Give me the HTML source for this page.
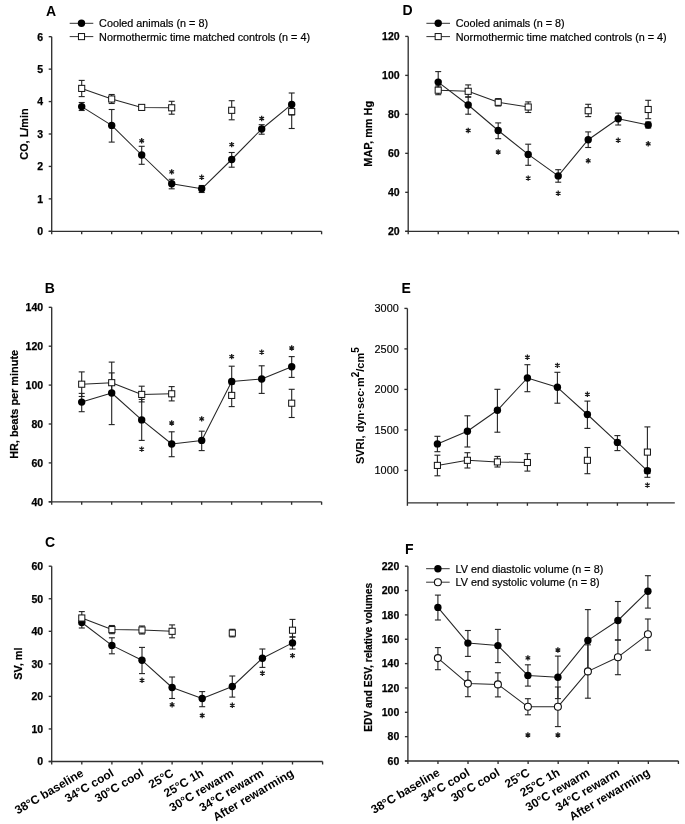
<!DOCTYPE html>
<html><head><meta charset="utf-8"><title>Figure</title><style>html,body{margin:0;padding:0;background:#fff;}svg{display:block;filter:blur(0.35px);}text{font-family:"Liberation Sans", sans-serif;fill:#000;}</style></head><body>
<svg width="685" height="824" viewBox="0 0 685 824" font-family='"Liberation Sans", sans-serif'>
<rect width="685" height="824" fill="#fff"/>
<line x1="51.7" y1="36.7" x2="51.7" y2="234.3" stroke="#303030" stroke-width="1.35"/>
<line x1="48.7" y1="231.3" x2="321.6" y2="231.3" stroke="#303030" stroke-width="1.35"/>
<line x1="48.7" y1="231.3" x2="51.7" y2="231.3" stroke="#303030" stroke-width="1.35"/>
<line x1="48.7" y1="198.87" x2="51.7" y2="198.87" stroke="#303030" stroke-width="1.35"/>
<line x1="48.7" y1="166.43" x2="51.7" y2="166.43" stroke="#303030" stroke-width="1.35"/>
<line x1="48.7" y1="134" x2="51.7" y2="134" stroke="#303030" stroke-width="1.35"/>
<line x1="48.7" y1="101.57" x2="51.7" y2="101.57" stroke="#303030" stroke-width="1.35"/>
<line x1="48.7" y1="69.13" x2="51.7" y2="69.13" stroke="#303030" stroke-width="1.35"/>
<line x1="48.7" y1="36.7" x2="51.7" y2="36.7" stroke="#303030" stroke-width="1.35"/>
<line x1="81.69" y1="231.3" x2="81.69" y2="234.3" stroke="#303030" stroke-width="1.35"/>
<line x1="111.68" y1="231.3" x2="111.68" y2="234.3" stroke="#303030" stroke-width="1.35"/>
<line x1="141.67" y1="231.3" x2="141.67" y2="234.3" stroke="#303030" stroke-width="1.35"/>
<line x1="171.66" y1="231.3" x2="171.66" y2="234.3" stroke="#303030" stroke-width="1.35"/>
<line x1="201.64" y1="231.3" x2="201.64" y2="234.3" stroke="#303030" stroke-width="1.35"/>
<line x1="231.63" y1="231.3" x2="231.63" y2="234.3" stroke="#303030" stroke-width="1.35"/>
<line x1="261.62" y1="231.3" x2="261.62" y2="234.3" stroke="#303030" stroke-width="1.35"/>
<line x1="291.61" y1="231.3" x2="291.61" y2="234.3" stroke="#303030" stroke-width="1.35"/>
<line x1="321.6" y1="231.3" x2="321.6" y2="234.3" stroke="#303030" stroke-width="1.35"/>
<text x="43.1" y="235.1" font-size="10.5" font-weight="bold" text-anchor="end" stroke="#000" stroke-width="0.25">0</text>
<text x="43.1" y="202.67" font-size="10.5" font-weight="bold" text-anchor="end" stroke="#000" stroke-width="0.25">1</text>
<text x="43.1" y="170.23" font-size="10.5" font-weight="bold" text-anchor="end" stroke="#000" stroke-width="0.25">2</text>
<text x="43.1" y="137.8" font-size="10.5" font-weight="bold" text-anchor="end" stroke="#000" stroke-width="0.25">3</text>
<text x="43.1" y="105.37" font-size="10.5" font-weight="bold" text-anchor="end" stroke="#000" stroke-width="0.25">4</text>
<text x="43.1" y="72.93" font-size="10.5" font-weight="bold" text-anchor="end" stroke="#000" stroke-width="0.25">5</text>
<text x="43.1" y="40.5" font-size="10.5" font-weight="bold" text-anchor="end" stroke="#000" stroke-width="0.25">6</text>
<text x="46" y="15.8" font-size="14" font-weight="bold" text-anchor="start" >A</text>
<text transform="translate(28.3,134) rotate(-90)" font-size="10.9" font-weight="bold" text-anchor="middle" stroke="#000" stroke-width="0.2">CO, L/min</text>
<line x1="69.7" y1="23.3" x2="93.3" y2="23.3" stroke="#333" stroke-width="1.0"/>
<circle cx="81.5" cy="23.3" r="3.7" fill="#000"/>
<text x="99.1" y="27.2" font-size="10.8" font-weight="normal" text-anchor="start" stroke="#000" stroke-width="0.2">Cooled animals (n = 8)</text>
<line x1="69.7" y1="36.6" x2="93.3" y2="36.6" stroke="#333" stroke-width="1.0"/>
<rect x="78.45" y="33.55" width="6.1" height="6.1" fill="#fff" stroke="#111" stroke-width="1.0"/>
<text x="99.1" y="40.5" font-size="10.8" font-weight="normal" text-anchor="start" stroke="#000" stroke-width="0.2">Normothermic time matched controls (n = 4)</text>
<polyline points="81.7,88.4 111.7,99 141.7,107.4 171.7,107.8" fill="none" stroke="#262626" stroke-width="1.05" stroke-linejoin="round"/>
<polyline points="81.7,106.6 111.7,125.4 141.7,155 171.7,183.8 201.7,188.8 231.7,159.5 261.7,129 291.7,104.4" fill="none" stroke="#262626" stroke-width="1.05" stroke-linejoin="round"/>
<line x1="81.7" y1="80.4" x2="81.7" y2="88.4" stroke="#222" stroke-width="1.1"/>
<line x1="78.7" y1="80.4" x2="84.7" y2="80.4" stroke="#222" stroke-width="1.1"/>
<line x1="81.7" y1="88.4" x2="81.7" y2="96.6" stroke="#222" stroke-width="1.1"/>
<line x1="78.7" y1="96.6" x2="84.7" y2="96.6" stroke="#222" stroke-width="1.1"/>
<line x1="111.7" y1="94.5" x2="111.7" y2="99" stroke="#222" stroke-width="1.1"/>
<line x1="108.7" y1="94.5" x2="114.7" y2="94.5" stroke="#222" stroke-width="1.1"/>
<line x1="111.7" y1="99" x2="111.7" y2="103.5" stroke="#222" stroke-width="1.1"/>
<line x1="108.7" y1="103.5" x2="114.7" y2="103.5" stroke="#222" stroke-width="1.1"/>
<line x1="171.7" y1="101.3" x2="171.7" y2="107.8" stroke="#222" stroke-width="1.1"/>
<line x1="168.7" y1="101.3" x2="174.7" y2="101.3" stroke="#222" stroke-width="1.1"/>
<line x1="171.7" y1="107.8" x2="171.7" y2="114.2" stroke="#222" stroke-width="1.1"/>
<line x1="168.7" y1="114.2" x2="174.7" y2="114.2" stroke="#222" stroke-width="1.1"/>
<line x1="231.7" y1="100.7" x2="231.7" y2="110.3" stroke="#222" stroke-width="1.1"/>
<line x1="228.7" y1="100.7" x2="234.7" y2="100.7" stroke="#222" stroke-width="1.1"/>
<line x1="231.7" y1="110.3" x2="231.7" y2="119.8" stroke="#222" stroke-width="1.1"/>
<line x1="228.7" y1="119.8" x2="234.7" y2="119.8" stroke="#222" stroke-width="1.1"/>
<line x1="291.7" y1="111.6" x2="291.7" y2="128.5" stroke="#222" stroke-width="1.1"/>
<line x1="288.7" y1="128.5" x2="294.7" y2="128.5" stroke="#222" stroke-width="1.1"/>
<line x1="81.7" y1="102.5" x2="81.7" y2="110.5" stroke="#222" stroke-width="1.1"/>
<line x1="78.7" y1="102.5" x2="84.7" y2="102.5" stroke="#222" stroke-width="1.1"/>
<line x1="78.7" y1="110.5" x2="84.7" y2="110.5" stroke="#222" stroke-width="1.1"/>
<line x1="111.7" y1="109.5" x2="111.7" y2="142.1" stroke="#222" stroke-width="1.1"/>
<line x1="108.7" y1="109.5" x2="114.7" y2="109.5" stroke="#222" stroke-width="1.1"/>
<line x1="108.7" y1="142.1" x2="114.7" y2="142.1" stroke="#222" stroke-width="1.1"/>
<line x1="141.7" y1="146.3" x2="141.7" y2="164.3" stroke="#222" stroke-width="1.1"/>
<line x1="138.7" y1="146.3" x2="144.7" y2="146.3" stroke="#222" stroke-width="1.1"/>
<line x1="138.7" y1="164.3" x2="144.7" y2="164.3" stroke="#222" stroke-width="1.1"/>
<line x1="171.7" y1="179.3" x2="171.7" y2="188.8" stroke="#222" stroke-width="1.1"/>
<line x1="168.7" y1="179.3" x2="174.7" y2="179.3" stroke="#222" stroke-width="1.1"/>
<line x1="168.7" y1="188.8" x2="174.7" y2="188.8" stroke="#222" stroke-width="1.1"/>
<line x1="201.7" y1="185.5" x2="201.7" y2="192.5" stroke="#222" stroke-width="1.1"/>
<line x1="198.7" y1="185.5" x2="204.7" y2="185.5" stroke="#222" stroke-width="1.1"/>
<line x1="198.7" y1="192.5" x2="204.7" y2="192.5" stroke="#222" stroke-width="1.1"/>
<line x1="231.7" y1="152.5" x2="231.7" y2="167.2" stroke="#222" stroke-width="1.1"/>
<line x1="228.7" y1="152.5" x2="234.7" y2="152.5" stroke="#222" stroke-width="1.1"/>
<line x1="228.7" y1="167.2" x2="234.7" y2="167.2" stroke="#222" stroke-width="1.1"/>
<line x1="261.7" y1="124.7" x2="261.7" y2="134.2" stroke="#222" stroke-width="1.1"/>
<line x1="258.7" y1="124.7" x2="264.7" y2="124.7" stroke="#222" stroke-width="1.1"/>
<line x1="258.7" y1="134.2" x2="264.7" y2="134.2" stroke="#222" stroke-width="1.1"/>
<line x1="291.7" y1="93" x2="291.7" y2="115" stroke="#222" stroke-width="1.1"/>
<line x1="288.7" y1="93" x2="294.7" y2="93" stroke="#222" stroke-width="1.1"/>
<line x1="288.7" y1="115" x2="294.7" y2="115" stroke="#222" stroke-width="1.1"/>
<circle cx="81.7" cy="106.6" r="3.7" fill="#000"/>
<circle cx="111.7" cy="125.4" r="3.7" fill="#000"/>
<circle cx="141.7" cy="155" r="3.7" fill="#000"/>
<circle cx="171.7" cy="183.8" r="3.7" fill="#000"/>
<circle cx="201.7" cy="188.8" r="3.7" fill="#000"/>
<circle cx="231.7" cy="159.5" r="3.7" fill="#000"/>
<circle cx="261.7" cy="129" r="3.7" fill="#000"/>
<circle cx="291.7" cy="104.4" r="3.7" fill="#000"/>
<rect x="78.65" y="85.35" width="6.1" height="6.1" fill="#fff" stroke="#111" stroke-width="1.0"/>
<rect x="108.65" y="95.95" width="6.1" height="6.1" fill="#fff" stroke="#111" stroke-width="1.0"/>
<rect x="138.65" y="104.35" width="6.1" height="6.1" fill="#fff" stroke="#111" stroke-width="1.0"/>
<rect x="168.65" y="104.75" width="6.1" height="6.1" fill="#fff" stroke="#111" stroke-width="1.0"/>
<rect x="228.65" y="107.25" width="6.1" height="6.1" fill="#fff" stroke="#111" stroke-width="1.0"/>
<rect x="288.65" y="108.55" width="6.1" height="6.1" fill="#fff" stroke="#111" stroke-width="1.0"/>
<path d="M141.7,143.5L141.7,138.1M139.36,142.15L144.04,139.45M144.04,142.15L139.36,139.45" stroke="#1a1a1a" stroke-width="1.3" fill="none"/>
<path d="M171.7,174.6L171.7,169.2M169.36,173.25L174.04,170.55M174.04,173.25L169.36,170.55" stroke="#1a1a1a" stroke-width="1.3" fill="none"/>
<path d="M201.7,180L201.7,174.6M199.36,178.65L204.04,175.95M204.04,178.65L199.36,175.95" stroke="#1a1a1a" stroke-width="1.3" fill="none"/>
<path d="M231.7,147.3L231.7,141.9M229.36,145.95L234.04,143.25M234.04,145.95L229.36,143.25" stroke="#1a1a1a" stroke-width="1.3" fill="none"/>
<path d="M261.7,121.2L261.7,115.8M259.36,119.85L264.04,117.15M264.04,119.85L259.36,117.15" stroke="#1a1a1a" stroke-width="1.3" fill="none"/>
<line x1="408.2" y1="36.4" x2="408.2" y2="234.3" stroke="#303030" stroke-width="1.35"/>
<line x1="405.2" y1="231.3" x2="678.4" y2="231.3" stroke="#303030" stroke-width="1.35"/>
<line x1="405.2" y1="231.3" x2="408.2" y2="231.3" stroke="#303030" stroke-width="1.35"/>
<line x1="405.2" y1="192.32" x2="408.2" y2="192.32" stroke="#303030" stroke-width="1.35"/>
<line x1="405.2" y1="153.34" x2="408.2" y2="153.34" stroke="#303030" stroke-width="1.35"/>
<line x1="405.2" y1="114.36" x2="408.2" y2="114.36" stroke="#303030" stroke-width="1.35"/>
<line x1="405.2" y1="75.38" x2="408.2" y2="75.38" stroke="#303030" stroke-width="1.35"/>
<line x1="405.2" y1="36.4" x2="408.2" y2="36.4" stroke="#303030" stroke-width="1.35"/>
<line x1="438.22" y1="231.3" x2="438.22" y2="234.3" stroke="#303030" stroke-width="1.35"/>
<line x1="468.24" y1="231.3" x2="468.24" y2="234.3" stroke="#303030" stroke-width="1.35"/>
<line x1="498.27" y1="231.3" x2="498.27" y2="234.3" stroke="#303030" stroke-width="1.35"/>
<line x1="528.29" y1="231.3" x2="528.29" y2="234.3" stroke="#303030" stroke-width="1.35"/>
<line x1="558.31" y1="231.3" x2="558.31" y2="234.3" stroke="#303030" stroke-width="1.35"/>
<line x1="588.33" y1="231.3" x2="588.33" y2="234.3" stroke="#303030" stroke-width="1.35"/>
<line x1="618.36" y1="231.3" x2="618.36" y2="234.3" stroke="#303030" stroke-width="1.35"/>
<line x1="648.38" y1="231.3" x2="648.38" y2="234.3" stroke="#303030" stroke-width="1.35"/>
<line x1="678.4" y1="231.3" x2="678.4" y2="234.3" stroke="#303030" stroke-width="1.35"/>
<text x="399.6" y="235.1" font-size="10.5" font-weight="bold" text-anchor="end" stroke="#000" stroke-width="0.25">20</text>
<text x="399.6" y="196.12" font-size="10.5" font-weight="bold" text-anchor="end" stroke="#000" stroke-width="0.25">40</text>
<text x="399.6" y="157.14" font-size="10.5" font-weight="bold" text-anchor="end" stroke="#000" stroke-width="0.25">60</text>
<text x="399.6" y="118.16" font-size="10.5" font-weight="bold" text-anchor="end" stroke="#000" stroke-width="0.25">80</text>
<text x="399.6" y="79.18" font-size="10.5" font-weight="bold" text-anchor="end" stroke="#000" stroke-width="0.25">100</text>
<text x="399.6" y="40.2" font-size="10.5" font-weight="bold" text-anchor="end" stroke="#000" stroke-width="0.25">120</text>
<text x="402.4" y="15" font-size="14" font-weight="bold" text-anchor="start" >D</text>
<text transform="translate(372,133.8) rotate(-90)" font-size="10.9" font-weight="bold" text-anchor="middle" stroke="#000" stroke-width="0.2">MAP, mm Hg</text>
<line x1="426.4" y1="23.3" x2="450" y2="23.3" stroke="#333" stroke-width="1.0"/>
<circle cx="438.2" cy="23.3" r="3.7" fill="#000"/>
<text x="455.8" y="27.2" font-size="10.8" font-weight="normal" text-anchor="start" stroke="#000" stroke-width="0.2">Cooled animals (n = 8)</text>
<line x1="426.4" y1="36.6" x2="450" y2="36.6" stroke="#333" stroke-width="1.0"/>
<rect x="435.15" y="33.55" width="6.1" height="6.1" fill="#fff" stroke="#111" stroke-width="1.0"/>
<text x="455.8" y="40.5" font-size="10.8" font-weight="normal" text-anchor="start" stroke="#000" stroke-width="0.2">Normothermic time matched controls (n = 4)</text>
<polyline points="438.2,90.2 468.2,91.3 498.2,102.3 528.2,107" fill="none" stroke="#262626" stroke-width="1.05" stroke-linejoin="round"/>
<polyline points="438.2,82.1 468.2,105 498.2,130.5 528.2,154.4 558.2,175.9 588.2,139.7 618.2,118.7 648.2,125" fill="none" stroke="#262626" stroke-width="1.05" stroke-linejoin="round"/>
<line x1="438.2" y1="86" x2="438.2" y2="94.7" stroke="#222" stroke-width="1.1"/>
<line x1="435.2" y1="86" x2="441.2" y2="86" stroke="#222" stroke-width="1.1"/>
<line x1="435.2" y1="94.7" x2="441.2" y2="94.7" stroke="#222" stroke-width="1.1"/>
<line x1="468.2" y1="84.9" x2="468.2" y2="97.2" stroke="#222" stroke-width="1.1"/>
<line x1="465.2" y1="84.9" x2="471.2" y2="84.9" stroke="#222" stroke-width="1.1"/>
<line x1="465.2" y1="97.2" x2="471.2" y2="97.2" stroke="#222" stroke-width="1.1"/>
<line x1="498.2" y1="98.6" x2="498.2" y2="106" stroke="#222" stroke-width="1.1"/>
<line x1="495.2" y1="98.6" x2="501.2" y2="98.6" stroke="#222" stroke-width="1.1"/>
<line x1="495.2" y1="106" x2="501.2" y2="106" stroke="#222" stroke-width="1.1"/>
<line x1="528.2" y1="101.9" x2="528.2" y2="112.5" stroke="#222" stroke-width="1.1"/>
<line x1="525.2" y1="101.9" x2="531.2" y2="101.9" stroke="#222" stroke-width="1.1"/>
<line x1="525.2" y1="112.5" x2="531.2" y2="112.5" stroke="#222" stroke-width="1.1"/>
<line x1="588.2" y1="104.3" x2="588.2" y2="116.6" stroke="#222" stroke-width="1.1"/>
<line x1="585.2" y1="104.3" x2="591.2" y2="104.3" stroke="#222" stroke-width="1.1"/>
<line x1="585.2" y1="116.6" x2="591.2" y2="116.6" stroke="#222" stroke-width="1.1"/>
<line x1="648.2" y1="100.3" x2="648.2" y2="118.7" stroke="#222" stroke-width="1.1"/>
<line x1="645.2" y1="100.3" x2="651.2" y2="100.3" stroke="#222" stroke-width="1.1"/>
<line x1="645.2" y1="118.7" x2="651.2" y2="118.7" stroke="#222" stroke-width="1.1"/>
<line x1="438.2" y1="71.6" x2="438.2" y2="92" stroke="#222" stroke-width="1.1"/>
<line x1="435.2" y1="71.6" x2="441.2" y2="71.6" stroke="#222" stroke-width="1.1"/>
<line x1="435.2" y1="92" x2="441.2" y2="92" stroke="#222" stroke-width="1.1"/>
<line x1="468.2" y1="96.8" x2="468.2" y2="114.2" stroke="#222" stroke-width="1.1"/>
<line x1="465.2" y1="96.8" x2="471.2" y2="96.8" stroke="#222" stroke-width="1.1"/>
<line x1="465.2" y1="114.2" x2="471.2" y2="114.2" stroke="#222" stroke-width="1.1"/>
<line x1="498.2" y1="122.9" x2="498.2" y2="138.7" stroke="#222" stroke-width="1.1"/>
<line x1="495.2" y1="122.9" x2="501.2" y2="122.9" stroke="#222" stroke-width="1.1"/>
<line x1="495.2" y1="138.7" x2="501.2" y2="138.7" stroke="#222" stroke-width="1.1"/>
<line x1="528.2" y1="144.2" x2="528.2" y2="165.3" stroke="#222" stroke-width="1.1"/>
<line x1="525.2" y1="144.2" x2="531.2" y2="144.2" stroke="#222" stroke-width="1.1"/>
<line x1="525.2" y1="165.3" x2="531.2" y2="165.3" stroke="#222" stroke-width="1.1"/>
<line x1="558.2" y1="169.7" x2="558.2" y2="182.2" stroke="#222" stroke-width="1.1"/>
<line x1="555.2" y1="169.7" x2="561.2" y2="169.7" stroke="#222" stroke-width="1.1"/>
<line x1="555.2" y1="182.2" x2="561.2" y2="182.2" stroke="#222" stroke-width="1.1"/>
<line x1="588.2" y1="131.9" x2="588.2" y2="147.5" stroke="#222" stroke-width="1.1"/>
<line x1="585.2" y1="131.9" x2="591.2" y2="131.9" stroke="#222" stroke-width="1.1"/>
<line x1="585.2" y1="147.5" x2="591.2" y2="147.5" stroke="#222" stroke-width="1.1"/>
<line x1="618.2" y1="113.1" x2="618.2" y2="125" stroke="#222" stroke-width="1.1"/>
<line x1="615.2" y1="113.1" x2="621.2" y2="113.1" stroke="#222" stroke-width="1.1"/>
<line x1="615.2" y1="125" x2="621.2" y2="125" stroke="#222" stroke-width="1.1"/>
<line x1="648.2" y1="122" x2="648.2" y2="128" stroke="#222" stroke-width="1.1"/>
<line x1="645.2" y1="122" x2="651.2" y2="122" stroke="#222" stroke-width="1.1"/>
<line x1="645.2" y1="128" x2="651.2" y2="128" stroke="#222" stroke-width="1.1"/>
<circle cx="438.2" cy="82.1" r="3.7" fill="#000"/>
<circle cx="468.2" cy="105" r="3.7" fill="#000"/>
<circle cx="498.2" cy="130.5" r="3.7" fill="#000"/>
<circle cx="528.2" cy="154.4" r="3.7" fill="#000"/>
<circle cx="558.2" cy="175.9" r="3.7" fill="#000"/>
<circle cx="588.2" cy="139.7" r="3.7" fill="#000"/>
<circle cx="618.2" cy="118.7" r="3.7" fill="#000"/>
<circle cx="648.2" cy="125" r="3.7" fill="#000"/>
<rect x="435.15" y="87.15" width="6.1" height="6.1" fill="#fff" stroke="#111" stroke-width="1.0"/>
<rect x="465.15" y="88.25" width="6.1" height="6.1" fill="#fff" stroke="#111" stroke-width="1.0"/>
<rect x="495.15" y="99.25" width="6.1" height="6.1" fill="#fff" stroke="#111" stroke-width="1.0"/>
<rect x="525.15" y="103.95" width="6.1" height="6.1" fill="#fff" stroke="#111" stroke-width="1.0"/>
<rect x="585.15" y="107.65" width="6.1" height="6.1" fill="#fff" stroke="#111" stroke-width="1.0"/>
<rect x="645.15" y="106.45" width="6.1" height="6.1" fill="#fff" stroke="#111" stroke-width="1.0"/>
<path d="M468.2,133.2L468.2,127.8M465.86,131.85L470.54,129.15M470.54,131.85L465.86,129.15" stroke="#1a1a1a" stroke-width="1.3" fill="none"/>
<path d="M498.2,154.7L498.2,149.3M495.86,153.35L500.54,150.65M500.54,153.35L495.86,150.65" stroke="#1a1a1a" stroke-width="1.3" fill="none"/>
<path d="M528.2,180.8L528.2,175.4M525.86,179.45L530.54,176.75M530.54,179.45L525.86,176.75" stroke="#1a1a1a" stroke-width="1.3" fill="none"/>
<path d="M558.2,196L558.2,190.6M555.86,194.65L560.54,191.95M560.54,194.65L555.86,191.95" stroke="#1a1a1a" stroke-width="1.3" fill="none"/>
<path d="M588.2,163.5L588.2,158.1M585.86,162.15L590.54,159.45M590.54,162.15L585.86,159.45" stroke="#1a1a1a" stroke-width="1.3" fill="none"/>
<path d="M618.2,143L618.2,137.6M615.86,141.65L620.54,138.95M620.54,141.65L615.86,138.95" stroke="#1a1a1a" stroke-width="1.3" fill="none"/>
<path d="M648.2,146.5L648.2,141.1M645.86,145.15L650.54,142.45M650.54,145.15L645.86,142.45" stroke="#1a1a1a" stroke-width="1.3" fill="none"/>
<line x1="51.7" y1="307.3" x2="51.7" y2="504.8" stroke="#303030" stroke-width="1.35"/>
<line x1="48.7" y1="501.8" x2="321.6" y2="501.8" stroke="#303030" stroke-width="1.35"/>
<line x1="48.7" y1="501.8" x2="51.7" y2="501.8" stroke="#303030" stroke-width="1.35"/>
<line x1="48.7" y1="462.9" x2="51.7" y2="462.9" stroke="#303030" stroke-width="1.35"/>
<line x1="48.7" y1="424" x2="51.7" y2="424" stroke="#303030" stroke-width="1.35"/>
<line x1="48.7" y1="385.1" x2="51.7" y2="385.1" stroke="#303030" stroke-width="1.35"/>
<line x1="48.7" y1="346.2" x2="51.7" y2="346.2" stroke="#303030" stroke-width="1.35"/>
<line x1="48.7" y1="307.3" x2="51.7" y2="307.3" stroke="#303030" stroke-width="1.35"/>
<line x1="81.69" y1="501.8" x2="81.69" y2="504.8" stroke="#303030" stroke-width="1.35"/>
<line x1="111.68" y1="501.8" x2="111.68" y2="504.8" stroke="#303030" stroke-width="1.35"/>
<line x1="141.67" y1="501.8" x2="141.67" y2="504.8" stroke="#303030" stroke-width="1.35"/>
<line x1="171.66" y1="501.8" x2="171.66" y2="504.8" stroke="#303030" stroke-width="1.35"/>
<line x1="201.64" y1="501.8" x2="201.64" y2="504.8" stroke="#303030" stroke-width="1.35"/>
<line x1="231.63" y1="501.8" x2="231.63" y2="504.8" stroke="#303030" stroke-width="1.35"/>
<line x1="261.62" y1="501.8" x2="261.62" y2="504.8" stroke="#303030" stroke-width="1.35"/>
<line x1="291.61" y1="501.8" x2="291.61" y2="504.8" stroke="#303030" stroke-width="1.35"/>
<line x1="321.6" y1="501.8" x2="321.6" y2="504.8" stroke="#303030" stroke-width="1.35"/>
<text x="43.1" y="505.6" font-size="10.5" font-weight="bold" text-anchor="end" stroke="#000" stroke-width="0.25">40</text>
<text x="43.1" y="466.7" font-size="10.5" font-weight="bold" text-anchor="end" stroke="#000" stroke-width="0.25">60</text>
<text x="43.1" y="427.8" font-size="10.5" font-weight="bold" text-anchor="end" stroke="#000" stroke-width="0.25">80</text>
<text x="43.1" y="388.9" font-size="10.5" font-weight="bold" text-anchor="end" stroke="#000" stroke-width="0.25">100</text>
<text x="43.1" y="350" font-size="10.5" font-weight="bold" text-anchor="end" stroke="#000" stroke-width="0.25">120</text>
<text x="43.1" y="311.1" font-size="10.5" font-weight="bold" text-anchor="end" stroke="#000" stroke-width="0.25">140</text>
<text x="44.8" y="293" font-size="14" font-weight="bold" text-anchor="start" >B</text>
<text transform="translate(18,404.4) rotate(-90)" font-size="10.9" font-weight="bold" text-anchor="middle" stroke="#000" stroke-width="0.2">HR, beats per minute</text>
<polyline points="81.7,384.2 111.7,382.7 141.7,394.4 171.7,393.8" fill="none" stroke="#262626" stroke-width="1.05" stroke-linejoin="round"/>
<polyline points="81.7,402.1 111.7,393 141.7,419.9 171.7,444 201.7,440.4 231.7,381.5 261.7,379 291.7,366.8" fill="none" stroke="#262626" stroke-width="1.05" stroke-linejoin="round"/>
<line x1="81.7" y1="371.9" x2="81.7" y2="396.5" stroke="#222" stroke-width="1.1"/>
<line x1="78.7" y1="371.9" x2="84.7" y2="371.9" stroke="#222" stroke-width="1.1"/>
<line x1="78.7" y1="396.5" x2="84.7" y2="396.5" stroke="#222" stroke-width="1.1"/>
<line x1="111.7" y1="372.9" x2="111.7" y2="392.5" stroke="#222" stroke-width="1.1"/>
<line x1="108.7" y1="372.9" x2="114.7" y2="372.9" stroke="#222" stroke-width="1.1"/>
<line x1="108.7" y1="392.5" x2="114.7" y2="392.5" stroke="#222" stroke-width="1.1"/>
<line x1="141.7" y1="386.2" x2="141.7" y2="401.9" stroke="#222" stroke-width="1.1"/>
<line x1="138.7" y1="386.2" x2="144.7" y2="386.2" stroke="#222" stroke-width="1.1"/>
<line x1="138.7" y1="401.9" x2="144.7" y2="401.9" stroke="#222" stroke-width="1.1"/>
<line x1="171.7" y1="386.6" x2="171.7" y2="400.9" stroke="#222" stroke-width="1.1"/>
<line x1="168.7" y1="386.6" x2="174.7" y2="386.6" stroke="#222" stroke-width="1.1"/>
<line x1="168.7" y1="400.9" x2="174.7" y2="400.9" stroke="#222" stroke-width="1.1"/>
<line x1="231.7" y1="384" x2="231.7" y2="406.6" stroke="#222" stroke-width="1.1"/>
<line x1="228.7" y1="384" x2="234.7" y2="384" stroke="#222" stroke-width="1.1"/>
<line x1="228.7" y1="406.6" x2="234.7" y2="406.6" stroke="#222" stroke-width="1.1"/>
<line x1="291.7" y1="389.3" x2="291.7" y2="417.5" stroke="#222" stroke-width="1.1"/>
<line x1="288.7" y1="389.3" x2="294.7" y2="389.3" stroke="#222" stroke-width="1.1"/>
<line x1="288.7" y1="417.5" x2="294.7" y2="417.5" stroke="#222" stroke-width="1.1"/>
<line x1="81.7" y1="393.4" x2="81.7" y2="411.7" stroke="#222" stroke-width="1.1"/>
<line x1="78.7" y1="393.4" x2="84.7" y2="393.4" stroke="#222" stroke-width="1.1"/>
<line x1="78.7" y1="411.7" x2="84.7" y2="411.7" stroke="#222" stroke-width="1.1"/>
<line x1="111.7" y1="362.1" x2="111.7" y2="424.6" stroke="#222" stroke-width="1.1"/>
<line x1="108.7" y1="362.1" x2="114.7" y2="362.1" stroke="#222" stroke-width="1.1"/>
<line x1="108.7" y1="424.6" x2="114.7" y2="424.6" stroke="#222" stroke-width="1.1"/>
<line x1="141.7" y1="399.4" x2="141.7" y2="440.4" stroke="#222" stroke-width="1.1"/>
<line x1="138.7" y1="399.4" x2="144.7" y2="399.4" stroke="#222" stroke-width="1.1"/>
<line x1="138.7" y1="440.4" x2="144.7" y2="440.4" stroke="#222" stroke-width="1.1"/>
<line x1="171.7" y1="431.8" x2="171.7" y2="456.7" stroke="#222" stroke-width="1.1"/>
<line x1="168.7" y1="431.8" x2="174.7" y2="431.8" stroke="#222" stroke-width="1.1"/>
<line x1="168.7" y1="456.7" x2="174.7" y2="456.7" stroke="#222" stroke-width="1.1"/>
<line x1="201.7" y1="431.2" x2="201.7" y2="450.6" stroke="#222" stroke-width="1.1"/>
<line x1="198.7" y1="431.2" x2="204.7" y2="431.2" stroke="#222" stroke-width="1.1"/>
<line x1="198.7" y1="450.6" x2="204.7" y2="450.6" stroke="#222" stroke-width="1.1"/>
<line x1="231.7" y1="366.2" x2="231.7" y2="396.8" stroke="#222" stroke-width="1.1"/>
<line x1="228.7" y1="366.2" x2="234.7" y2="366.2" stroke="#222" stroke-width="1.1"/>
<line x1="228.7" y1="396.8" x2="234.7" y2="396.8" stroke="#222" stroke-width="1.1"/>
<line x1="261.7" y1="365.8" x2="261.7" y2="393.4" stroke="#222" stroke-width="1.1"/>
<line x1="258.7" y1="365.8" x2="264.7" y2="365.8" stroke="#222" stroke-width="1.1"/>
<line x1="258.7" y1="393.4" x2="264.7" y2="393.4" stroke="#222" stroke-width="1.1"/>
<line x1="291.7" y1="356.6" x2="291.7" y2="377.4" stroke="#222" stroke-width="1.1"/>
<line x1="288.7" y1="356.6" x2="294.7" y2="356.6" stroke="#222" stroke-width="1.1"/>
<line x1="288.7" y1="377.4" x2="294.7" y2="377.4" stroke="#222" stroke-width="1.1"/>
<circle cx="81.7" cy="402.1" r="3.7" fill="#000"/>
<circle cx="111.7" cy="393" r="3.7" fill="#000"/>
<circle cx="141.7" cy="419.9" r="3.7" fill="#000"/>
<circle cx="171.7" cy="444" r="3.7" fill="#000"/>
<circle cx="201.7" cy="440.4" r="3.7" fill="#000"/>
<circle cx="231.7" cy="381.5" r="3.7" fill="#000"/>
<circle cx="261.7" cy="379" r="3.7" fill="#000"/>
<circle cx="291.7" cy="366.8" r="3.7" fill="#000"/>
<rect x="78.65" y="381.15" width="6.1" height="6.1" fill="#fff" stroke="#111" stroke-width="1.0"/>
<rect x="108.65" y="379.65" width="6.1" height="6.1" fill="#fff" stroke="#111" stroke-width="1.0"/>
<rect x="138.65" y="391.35" width="6.1" height="6.1" fill="#fff" stroke="#111" stroke-width="1.0"/>
<rect x="168.65" y="390.75" width="6.1" height="6.1" fill="#fff" stroke="#111" stroke-width="1.0"/>
<rect x="228.65" y="392.35" width="6.1" height="6.1" fill="#fff" stroke="#111" stroke-width="1.0"/>
<rect x="288.65" y="400.15" width="6.1" height="6.1" fill="#fff" stroke="#111" stroke-width="1.0"/>
<path d="M141.7,451.8L141.7,446.4M139.36,450.45L144.04,447.75M144.04,450.45L139.36,447.75" stroke="#1a1a1a" stroke-width="1.3" fill="none"/>
<path d="M171.7,425.7L171.7,420.3M169.36,424.35L174.04,421.65M174.04,424.35L169.36,421.65" stroke="#1a1a1a" stroke-width="1.3" fill="none"/>
<path d="M201.7,421.6L201.7,416.2M199.36,420.25L204.04,417.55M204.04,420.25L199.36,417.55" stroke="#1a1a1a" stroke-width="1.3" fill="none"/>
<path d="M231.7,359.3L231.7,353.9M229.36,357.95L234.04,355.25M234.04,357.95L229.36,355.25" stroke="#1a1a1a" stroke-width="1.3" fill="none"/>
<path d="M261.7,354.8L261.7,349.4M259.36,353.45L264.04,350.75M264.04,353.45L259.36,350.75" stroke="#1a1a1a" stroke-width="1.3" fill="none"/>
<path d="M291.7,350.7L291.7,345.3M289.36,349.35L294.04,346.65M294.04,349.35L289.36,346.65" stroke="#1a1a1a" stroke-width="1.3" fill="none"/>
<line x1="407.4" y1="308.4" x2="407.4" y2="505.8" stroke="#303030" stroke-width="1.35"/>
<line x1="407.4" y1="502.8" x2="674.8" y2="502.8" stroke="#303030" stroke-width="1.35"/>
<line x1="404.4" y1="470.4" x2="407.4" y2="470.4" stroke="#303030" stroke-width="1.35"/>
<line x1="404.4" y1="429.9" x2="407.4" y2="429.9" stroke="#303030" stroke-width="1.35"/>
<line x1="404.4" y1="389.4" x2="407.4" y2="389.4" stroke="#303030" stroke-width="1.35"/>
<line x1="404.4" y1="348.9" x2="407.4" y2="348.9" stroke="#303030" stroke-width="1.35"/>
<line x1="404.4" y1="308.4" x2="407.4" y2="308.4" stroke="#303030" stroke-width="1.35"/>
<line x1="437.4" y1="502.8" x2="437.4" y2="505.8" stroke="#303030" stroke-width="1.35"/>
<line x1="467.4" y1="502.8" x2="467.4" y2="505.8" stroke="#303030" stroke-width="1.35"/>
<line x1="497.4" y1="502.8" x2="497.4" y2="505.8" stroke="#303030" stroke-width="1.35"/>
<line x1="527.4" y1="502.8" x2="527.4" y2="505.8" stroke="#303030" stroke-width="1.35"/>
<line x1="557.4" y1="502.8" x2="557.4" y2="505.8" stroke="#303030" stroke-width="1.35"/>
<line x1="587.4" y1="502.8" x2="587.4" y2="505.8" stroke="#303030" stroke-width="1.35"/>
<line x1="617.4" y1="502.8" x2="617.4" y2="505.8" stroke="#303030" stroke-width="1.35"/>
<line x1="647.4" y1="502.8" x2="647.4" y2="505.8" stroke="#303030" stroke-width="1.35"/>
<text x="398.8" y="474.2" font-size="10.9" font-weight="normal" text-anchor="end" stroke="#000" stroke-width="0.15">1000</text>
<text x="398.8" y="433.7" font-size="10.9" font-weight="normal" text-anchor="end" stroke="#000" stroke-width="0.15">1500</text>
<text x="398.8" y="393.2" font-size="10.9" font-weight="normal" text-anchor="end" stroke="#000" stroke-width="0.15">2000</text>
<text x="398.8" y="352.7" font-size="10.9" font-weight="normal" text-anchor="end" stroke="#000" stroke-width="0.15">2500</text>
<text x="398.8" y="312.2" font-size="10.9" font-weight="normal" text-anchor="end" stroke="#000" stroke-width="0.15">3000</text>
<text x="401.4" y="293.3" font-size="14" font-weight="bold" text-anchor="start" >E</text>
<text transform="translate(364.2,464.1) rotate(-90)" font-size="11" font-weight="bold">SVRI, dyn·sec·m<tspan dy="-4.8" font-size="10">2</tspan><tspan dy="4.8">/cm</tspan><tspan dy="-4.8" font-size="10">5</tspan></text>
<polyline points="437.4,465.4 467.4,460.3 497.4,461.9 527.4,462.5" fill="none" stroke="#262626" stroke-width="1.05" stroke-linejoin="round"/>
<polyline points="437.4,443.9 467.4,431.2 497.4,410.3 527.4,378 557.4,387.3 587.4,414.5 617.4,442.4 647.4,470.8" fill="none" stroke="#262626" stroke-width="1.05" stroke-linejoin="round"/>
<line x1="437.4" y1="455.2" x2="437.4" y2="475.8" stroke="#222" stroke-width="1.1"/>
<line x1="434.4" y1="455.2" x2="440.4" y2="455.2" stroke="#222" stroke-width="1.1"/>
<line x1="434.4" y1="475.8" x2="440.4" y2="475.8" stroke="#222" stroke-width="1.1"/>
<line x1="467.4" y1="452.7" x2="467.4" y2="468" stroke="#222" stroke-width="1.1"/>
<line x1="464.4" y1="452.7" x2="470.4" y2="452.7" stroke="#222" stroke-width="1.1"/>
<line x1="464.4" y1="468" x2="470.4" y2="468" stroke="#222" stroke-width="1.1"/>
<line x1="497.4" y1="456.4" x2="497.4" y2="467" stroke="#222" stroke-width="1.1"/>
<line x1="494.4" y1="456.4" x2="500.4" y2="456.4" stroke="#222" stroke-width="1.1"/>
<line x1="494.4" y1="467" x2="500.4" y2="467" stroke="#222" stroke-width="1.1"/>
<line x1="527.4" y1="453.7" x2="527.4" y2="471.1" stroke="#222" stroke-width="1.1"/>
<line x1="524.4" y1="453.7" x2="530.4" y2="453.7" stroke="#222" stroke-width="1.1"/>
<line x1="524.4" y1="471.1" x2="530.4" y2="471.1" stroke="#222" stroke-width="1.1"/>
<line x1="587.4" y1="447.5" x2="587.4" y2="473.7" stroke="#222" stroke-width="1.1"/>
<line x1="584.4" y1="447.5" x2="590.4" y2="447.5" stroke="#222" stroke-width="1.1"/>
<line x1="584.4" y1="473.7" x2="590.4" y2="473.7" stroke="#222" stroke-width="1.1"/>
<line x1="647.4" y1="426.9" x2="647.4" y2="477.3" stroke="#222" stroke-width="1.1"/>
<line x1="644.4" y1="426.9" x2="650.4" y2="426.9" stroke="#222" stroke-width="1.1"/>
<line x1="644.4" y1="477.3" x2="650.4" y2="477.3" stroke="#222" stroke-width="1.1"/>
<line x1="437.4" y1="436.3" x2="437.4" y2="451.7" stroke="#222" stroke-width="1.1"/>
<line x1="434.4" y1="436.3" x2="440.4" y2="436.3" stroke="#222" stroke-width="1.1"/>
<line x1="434.4" y1="451.7" x2="440.4" y2="451.7" stroke="#222" stroke-width="1.1"/>
<line x1="467.4" y1="415.8" x2="467.4" y2="447" stroke="#222" stroke-width="1.1"/>
<line x1="464.4" y1="415.8" x2="470.4" y2="415.8" stroke="#222" stroke-width="1.1"/>
<line x1="464.4" y1="447" x2="470.4" y2="447" stroke="#222" stroke-width="1.1"/>
<line x1="497.4" y1="389.3" x2="497.4" y2="432.2" stroke="#222" stroke-width="1.1"/>
<line x1="494.4" y1="389.3" x2="500.4" y2="389.3" stroke="#222" stroke-width="1.1"/>
<line x1="494.4" y1="432.2" x2="500.4" y2="432.2" stroke="#222" stroke-width="1.1"/>
<line x1="527.4" y1="364.7" x2="527.4" y2="391.7" stroke="#222" stroke-width="1.1"/>
<line x1="524.4" y1="364.7" x2="530.4" y2="364.7" stroke="#222" stroke-width="1.1"/>
<line x1="524.4" y1="391.7" x2="530.4" y2="391.7" stroke="#222" stroke-width="1.1"/>
<line x1="557.4" y1="372.3" x2="557.4" y2="403.2" stroke="#222" stroke-width="1.1"/>
<line x1="554.4" y1="372.3" x2="560.4" y2="372.3" stroke="#222" stroke-width="1.1"/>
<line x1="554.4" y1="403.2" x2="560.4" y2="403.2" stroke="#222" stroke-width="1.1"/>
<line x1="587.4" y1="401.1" x2="587.4" y2="428.4" stroke="#222" stroke-width="1.1"/>
<line x1="584.4" y1="401.1" x2="590.4" y2="401.1" stroke="#222" stroke-width="1.1"/>
<line x1="584.4" y1="428.4" x2="590.4" y2="428.4" stroke="#222" stroke-width="1.1"/>
<line x1="617.4" y1="435.6" x2="617.4" y2="450.6" stroke="#222" stroke-width="1.1"/>
<line x1="614.4" y1="435.6" x2="620.4" y2="435.6" stroke="#222" stroke-width="1.1"/>
<line x1="614.4" y1="450.6" x2="620.4" y2="450.6" stroke="#222" stroke-width="1.1"/>
<line x1="647.4" y1="468.5" x2="647.4" y2="473.5" stroke="#222" stroke-width="1.1"/>
<line x1="644.4" y1="468.5" x2="650.4" y2="468.5" stroke="#222" stroke-width="1.1"/>
<line x1="644.4" y1="473.5" x2="650.4" y2="473.5" stroke="#222" stroke-width="1.1"/>
<circle cx="437.4" cy="443.9" r="3.7" fill="#000"/>
<circle cx="467.4" cy="431.2" r="3.7" fill="#000"/>
<circle cx="497.4" cy="410.3" r="3.7" fill="#000"/>
<circle cx="527.4" cy="378" r="3.7" fill="#000"/>
<circle cx="557.4" cy="387.3" r="3.7" fill="#000"/>
<circle cx="587.4" cy="414.5" r="3.7" fill="#000"/>
<circle cx="617.4" cy="442.4" r="3.7" fill="#000"/>
<circle cx="647.4" cy="470.8" r="3.7" fill="#000"/>
<rect x="434.35" y="462.35" width="6.1" height="6.1" fill="#fff" stroke="#111" stroke-width="1.0"/>
<rect x="464.35" y="457.25" width="6.1" height="6.1" fill="#fff" stroke="#111" stroke-width="1.0"/>
<rect x="494.35" y="458.85" width="6.1" height="6.1" fill="#fff" stroke="#111" stroke-width="1.0"/>
<rect x="524.35" y="459.45" width="6.1" height="6.1" fill="#fff" stroke="#111" stroke-width="1.0"/>
<rect x="584.35" y="457.25" width="6.1" height="6.1" fill="#fff" stroke="#111" stroke-width="1.0"/>
<rect x="644.35" y="449.05" width="6.1" height="6.1" fill="#fff" stroke="#111" stroke-width="1.0"/>
<path d="M527.4,359.9L527.4,354.5M525.06,358.55L529.74,355.85M529.74,358.55L525.06,355.85" stroke="#1a1a1a" stroke-width="1.3" fill="none"/>
<path d="M557.4,368.1L557.4,362.7M555.06,366.75L559.74,364.05M559.74,366.75L555.06,364.05" stroke="#1a1a1a" stroke-width="1.3" fill="none"/>
<path d="M587.4,397L587.4,391.6M585.06,395.65L589.74,392.95M589.74,395.65L585.06,392.95" stroke="#1a1a1a" stroke-width="1.3" fill="none"/>
<path d="M647.4,487.8L647.4,482.4M645.06,486.45L649.74,483.75M649.74,486.45L645.06,483.75" stroke="#1a1a1a" stroke-width="1.3" fill="none"/>
<line x1="51.7" y1="566.2" x2="51.7" y2="764.5" stroke="#303030" stroke-width="1.35"/>
<line x1="48.7" y1="761.5" x2="322.6" y2="761.5" stroke="#303030" stroke-width="1.35"/>
<line x1="48.7" y1="761.5" x2="51.7" y2="761.5" stroke="#303030" stroke-width="1.35"/>
<line x1="48.7" y1="728.95" x2="51.7" y2="728.95" stroke="#303030" stroke-width="1.35"/>
<line x1="48.7" y1="696.4" x2="51.7" y2="696.4" stroke="#303030" stroke-width="1.35"/>
<line x1="48.7" y1="663.85" x2="51.7" y2="663.85" stroke="#303030" stroke-width="1.35"/>
<line x1="48.7" y1="631.3" x2="51.7" y2="631.3" stroke="#303030" stroke-width="1.35"/>
<line x1="48.7" y1="598.75" x2="51.7" y2="598.75" stroke="#303030" stroke-width="1.35"/>
<line x1="48.7" y1="566.2" x2="51.7" y2="566.2" stroke="#303030" stroke-width="1.35"/>
<line x1="81.8" y1="761.5" x2="81.8" y2="764.5" stroke="#303030" stroke-width="1.35"/>
<line x1="111.9" y1="761.5" x2="111.9" y2="764.5" stroke="#303030" stroke-width="1.35"/>
<line x1="142" y1="761.5" x2="142" y2="764.5" stroke="#303030" stroke-width="1.35"/>
<line x1="172.1" y1="761.5" x2="172.1" y2="764.5" stroke="#303030" stroke-width="1.35"/>
<line x1="202.2" y1="761.5" x2="202.2" y2="764.5" stroke="#303030" stroke-width="1.35"/>
<line x1="232.3" y1="761.5" x2="232.3" y2="764.5" stroke="#303030" stroke-width="1.35"/>
<line x1="262.4" y1="761.5" x2="262.4" y2="764.5" stroke="#303030" stroke-width="1.35"/>
<line x1="292.5" y1="761.5" x2="292.5" y2="764.5" stroke="#303030" stroke-width="1.35"/>
<line x1="322.6" y1="761.5" x2="322.6" y2="764.5" stroke="#303030" stroke-width="1.35"/>
<text x="43.1" y="765.3" font-size="10.5" font-weight="bold" text-anchor="end" stroke="#000" stroke-width="0.25">0</text>
<text x="43.1" y="732.75" font-size="10.5" font-weight="bold" text-anchor="end" stroke="#000" stroke-width="0.25">10</text>
<text x="43.1" y="700.2" font-size="10.5" font-weight="bold" text-anchor="end" stroke="#000" stroke-width="0.25">20</text>
<text x="43.1" y="667.65" font-size="10.5" font-weight="bold" text-anchor="end" stroke="#000" stroke-width="0.25">30</text>
<text x="43.1" y="635.1" font-size="10.5" font-weight="bold" text-anchor="end" stroke="#000" stroke-width="0.25">40</text>
<text x="43.1" y="602.55" font-size="10.5" font-weight="bold" text-anchor="end" stroke="#000" stroke-width="0.25">50</text>
<text x="43.1" y="570" font-size="10.5" font-weight="bold" text-anchor="end" stroke="#000" stroke-width="0.25">60</text>
<text x="45" y="547.1" font-size="14" font-weight="bold" text-anchor="start" >C</text>
<text transform="translate(21.5,663.6) rotate(-90)" font-size="10.9" font-weight="bold" text-anchor="middle" stroke="#000" stroke-width="0.2">SV, ml</text>
<polyline points="81.8,618 111.9,629.6 142,630 172.1,631.3" fill="none" stroke="#262626" stroke-width="1.05" stroke-linejoin="round"/>
<polyline points="81.8,622.5 111.9,645.4 142,660.3 172.1,687.5 202.2,698.5 232.3,686.5 262.4,658.2 292.5,642.9" fill="none" stroke="#262626" stroke-width="1.05" stroke-linejoin="round"/>
<line x1="81.8" y1="611.6" x2="81.8" y2="624.4" stroke="#222" stroke-width="1.1"/>
<line x1="78.8" y1="611.6" x2="84.8" y2="611.6" stroke="#222" stroke-width="1.1"/>
<line x1="78.8" y1="624.4" x2="84.8" y2="624.4" stroke="#222" stroke-width="1.1"/>
<line x1="111.9" y1="625.5" x2="111.9" y2="633.7" stroke="#222" stroke-width="1.1"/>
<line x1="108.9" y1="625.5" x2="114.9" y2="625.5" stroke="#222" stroke-width="1.1"/>
<line x1="108.9" y1="633.7" x2="114.9" y2="633.7" stroke="#222" stroke-width="1.1"/>
<line x1="142" y1="626" x2="142" y2="634" stroke="#222" stroke-width="1.1"/>
<line x1="139" y1="626" x2="145" y2="626" stroke="#222" stroke-width="1.1"/>
<line x1="139" y1="634" x2="145" y2="634" stroke="#222" stroke-width="1.1"/>
<line x1="172.1" y1="624.9" x2="172.1" y2="637.8" stroke="#222" stroke-width="1.1"/>
<line x1="169.1" y1="624.9" x2="175.1" y2="624.9" stroke="#222" stroke-width="1.1"/>
<line x1="169.1" y1="637.8" x2="175.1" y2="637.8" stroke="#222" stroke-width="1.1"/>
<line x1="232.3" y1="629.3" x2="232.3" y2="636.9" stroke="#222" stroke-width="1.1"/>
<line x1="229.3" y1="629.3" x2="235.3" y2="629.3" stroke="#222" stroke-width="1.1"/>
<line x1="229.3" y1="636.9" x2="235.3" y2="636.9" stroke="#222" stroke-width="1.1"/>
<line x1="292.5" y1="619.4" x2="292.5" y2="637.2" stroke="#222" stroke-width="1.1"/>
<line x1="289.5" y1="619.4" x2="295.5" y2="619.4" stroke="#222" stroke-width="1.1"/>
<line x1="289.5" y1="637.2" x2="295.5" y2="637.2" stroke="#222" stroke-width="1.1"/>
<line x1="81.8" y1="617" x2="81.8" y2="628" stroke="#222" stroke-width="1.1"/>
<line x1="78.8" y1="617" x2="84.8" y2="617" stroke="#222" stroke-width="1.1"/>
<line x1="78.8" y1="628" x2="84.8" y2="628" stroke="#222" stroke-width="1.1"/>
<line x1="111.9" y1="637.8" x2="111.9" y2="653.8" stroke="#222" stroke-width="1.1"/>
<line x1="108.9" y1="637.8" x2="114.9" y2="637.8" stroke="#222" stroke-width="1.1"/>
<line x1="108.9" y1="653.8" x2="114.9" y2="653.8" stroke="#222" stroke-width="1.1"/>
<line x1="142" y1="647.4" x2="142" y2="673.6" stroke="#222" stroke-width="1.1"/>
<line x1="139" y1="647.4" x2="145" y2="647.4" stroke="#222" stroke-width="1.1"/>
<line x1="139" y1="673.6" x2="145" y2="673.6" stroke="#222" stroke-width="1.1"/>
<line x1="172.1" y1="677" x2="172.1" y2="698.5" stroke="#222" stroke-width="1.1"/>
<line x1="169.1" y1="677" x2="175.1" y2="677" stroke="#222" stroke-width="1.1"/>
<line x1="169.1" y1="698.5" x2="175.1" y2="698.5" stroke="#222" stroke-width="1.1"/>
<line x1="202.2" y1="691.6" x2="202.2" y2="706.7" stroke="#222" stroke-width="1.1"/>
<line x1="199.2" y1="691.6" x2="205.2" y2="691.6" stroke="#222" stroke-width="1.1"/>
<line x1="199.2" y1="706.7" x2="205.2" y2="706.7" stroke="#222" stroke-width="1.1"/>
<line x1="232.3" y1="676" x2="232.3" y2="697.1" stroke="#222" stroke-width="1.1"/>
<line x1="229.3" y1="676" x2="235.3" y2="676" stroke="#222" stroke-width="1.1"/>
<line x1="229.3" y1="697.1" x2="235.3" y2="697.1" stroke="#222" stroke-width="1.1"/>
<line x1="262.4" y1="649" x2="262.4" y2="667.4" stroke="#222" stroke-width="1.1"/>
<line x1="259.4" y1="649" x2="265.4" y2="649" stroke="#222" stroke-width="1.1"/>
<line x1="259.4" y1="667.4" x2="265.4" y2="667.4" stroke="#222" stroke-width="1.1"/>
<line x1="292.5" y1="636.8" x2="292.5" y2="649" stroke="#222" stroke-width="1.1"/>
<line x1="289.5" y1="636.8" x2="295.5" y2="636.8" stroke="#222" stroke-width="1.1"/>
<line x1="289.5" y1="649" x2="295.5" y2="649" stroke="#222" stroke-width="1.1"/>
<circle cx="81.8" cy="622.5" r="3.7" fill="#000"/>
<circle cx="111.9" cy="645.4" r="3.7" fill="#000"/>
<circle cx="142" cy="660.3" r="3.7" fill="#000"/>
<circle cx="172.1" cy="687.5" r="3.7" fill="#000"/>
<circle cx="202.2" cy="698.5" r="3.7" fill="#000"/>
<circle cx="232.3" cy="686.5" r="3.7" fill="#000"/>
<circle cx="262.4" cy="658.2" r="3.7" fill="#000"/>
<circle cx="292.5" cy="642.9" r="3.7" fill="#000"/>
<rect x="78.75" y="614.95" width="6.1" height="6.1" fill="#fff" stroke="#111" stroke-width="1.0"/>
<rect x="108.85" y="626.55" width="6.1" height="6.1" fill="#fff" stroke="#111" stroke-width="1.0"/>
<rect x="138.95" y="626.95" width="6.1" height="6.1" fill="#fff" stroke="#111" stroke-width="1.0"/>
<rect x="169.05" y="628.25" width="6.1" height="6.1" fill="#fff" stroke="#111" stroke-width="1.0"/>
<rect x="229.25" y="630.05" width="6.1" height="6.1" fill="#fff" stroke="#111" stroke-width="1.0"/>
<rect x="289.45" y="627.15" width="6.1" height="6.1" fill="#fff" stroke="#111" stroke-width="1.0"/>
<path d="M142,683L142,677.6M139.66,681.65L144.34,678.95M144.34,681.65L139.66,678.95" stroke="#1a1a1a" stroke-width="1.3" fill="none"/>
<path d="M172.1,707.5L172.1,702.1M169.76,706.15L174.44,703.45M174.44,706.15L169.76,703.45" stroke="#1a1a1a" stroke-width="1.3" fill="none"/>
<path d="M202.2,718.2L202.2,712.8M199.86,716.85L204.54,714.15M204.54,716.85L199.86,714.15" stroke="#1a1a1a" stroke-width="1.3" fill="none"/>
<path d="M232.3,708L232.3,702.6M229.96,706.65L234.64,703.95M234.64,706.65L229.96,703.95" stroke="#1a1a1a" stroke-width="1.3" fill="none"/>
<path d="M262.4,675.9L262.4,670.5M260.06,674.55L264.74,671.85M264.74,674.55L260.06,671.85" stroke="#1a1a1a" stroke-width="1.3" fill="none"/>
<path d="M292.5,658.3L292.5,652.9M290.16,656.95L294.84,654.25M294.84,656.95L290.16,654.25" stroke="#1a1a1a" stroke-width="1.3" fill="none"/>
<text transform="translate(84.5,775.3) rotate(-30.5)" font-size="11.9" font-weight="bold" text-anchor="end">38°C baseline</text>
<text transform="translate(114.5,775.3) rotate(-30.5)" font-size="11.9" font-weight="bold" text-anchor="end">34°C cool</text>
<text transform="translate(144.5,775.3) rotate(-30.5)" font-size="11.9" font-weight="bold" text-anchor="end">30°C cool</text>
<text transform="translate(174.5,775.3) rotate(-30.5)" font-size="11.9" font-weight="bold" text-anchor="end">25°C</text>
<text transform="translate(204.5,775.3) rotate(-30.5)" font-size="11.9" font-weight="bold" text-anchor="end">25°C 1h</text>
<text transform="translate(234.5,775.3) rotate(-30.5)" font-size="11.9" font-weight="bold" text-anchor="end">30°C rewarm</text>
<text transform="translate(264.5,775.3) rotate(-30.5)" font-size="11.9" font-weight="bold" text-anchor="end">34°C rewarm</text>
<text transform="translate(294.5,775.3) rotate(-30.5)" font-size="11.9" font-weight="bold" text-anchor="end">After rewarming</text>
<line x1="407.9" y1="566.2" x2="407.9" y2="764" stroke="#303030" stroke-width="1.35"/>
<line x1="404.9" y1="761" x2="678.4" y2="761" stroke="#303030" stroke-width="1.35"/>
<line x1="404.9" y1="761" x2="407.9" y2="761" stroke="#303030" stroke-width="1.35"/>
<line x1="404.9" y1="736.65" x2="407.9" y2="736.65" stroke="#303030" stroke-width="1.35"/>
<line x1="404.9" y1="712.3" x2="407.9" y2="712.3" stroke="#303030" stroke-width="1.35"/>
<line x1="404.9" y1="687.95" x2="407.9" y2="687.95" stroke="#303030" stroke-width="1.35"/>
<line x1="404.9" y1="663.6" x2="407.9" y2="663.6" stroke="#303030" stroke-width="1.35"/>
<line x1="404.9" y1="639.25" x2="407.9" y2="639.25" stroke="#303030" stroke-width="1.35"/>
<line x1="404.9" y1="614.9" x2="407.9" y2="614.9" stroke="#303030" stroke-width="1.35"/>
<line x1="404.9" y1="590.55" x2="407.9" y2="590.55" stroke="#303030" stroke-width="1.35"/>
<line x1="404.9" y1="566.2" x2="407.9" y2="566.2" stroke="#303030" stroke-width="1.35"/>
<line x1="437.96" y1="761" x2="437.96" y2="764" stroke="#303030" stroke-width="1.35"/>
<line x1="468.01" y1="761" x2="468.01" y2="764" stroke="#303030" stroke-width="1.35"/>
<line x1="498.07" y1="761" x2="498.07" y2="764" stroke="#303030" stroke-width="1.35"/>
<line x1="528.12" y1="761" x2="528.12" y2="764" stroke="#303030" stroke-width="1.35"/>
<line x1="558.18" y1="761" x2="558.18" y2="764" stroke="#303030" stroke-width="1.35"/>
<line x1="588.23" y1="761" x2="588.23" y2="764" stroke="#303030" stroke-width="1.35"/>
<line x1="618.29" y1="761" x2="618.29" y2="764" stroke="#303030" stroke-width="1.35"/>
<line x1="648.34" y1="761" x2="648.34" y2="764" stroke="#303030" stroke-width="1.35"/>
<line x1="678.4" y1="761" x2="678.4" y2="764" stroke="#303030" stroke-width="1.35"/>
<text x="399.3" y="764.8" font-size="10.5" font-weight="bold" text-anchor="end" stroke="#000" stroke-width="0.25">60</text>
<text x="399.3" y="740.45" font-size="10.5" font-weight="bold" text-anchor="end" stroke="#000" stroke-width="0.25">80</text>
<text x="399.3" y="716.1" font-size="10.5" font-weight="bold" text-anchor="end" stroke="#000" stroke-width="0.25">100</text>
<text x="399.3" y="691.75" font-size="10.5" font-weight="bold" text-anchor="end" stroke="#000" stroke-width="0.25">120</text>
<text x="399.3" y="667.4" font-size="10.5" font-weight="bold" text-anchor="end" stroke="#000" stroke-width="0.25">140</text>
<text x="399.3" y="643.05" font-size="10.5" font-weight="bold" text-anchor="end" stroke="#000" stroke-width="0.25">160</text>
<text x="399.3" y="618.7" font-size="10.5" font-weight="bold" text-anchor="end" stroke="#000" stroke-width="0.25">180</text>
<text x="399.3" y="594.35" font-size="10.5" font-weight="bold" text-anchor="end" stroke="#000" stroke-width="0.25">200</text>
<text x="399.3" y="570" font-size="10.5" font-weight="bold" text-anchor="end" stroke="#000" stroke-width="0.25">220</text>
<text x="404.9" y="554.2" font-size="14" font-weight="bold" text-anchor="start" >F</text>
<text transform="translate(371.6,657.3) rotate(-90)" font-size="10.15" font-weight="bold" text-anchor="middle" stroke="#000" stroke-width="0.2">EDV and ESV, relative volumes</text>
<line x1="426.1" y1="568.7" x2="449.7" y2="568.7" stroke="#333" stroke-width="1.0"/>
<circle cx="437.9" cy="568.7" r="3.7" fill="#000"/>
<text x="455.5" y="572.6" font-size="10.8" font-weight="normal" text-anchor="start" stroke="#000" stroke-width="0.2">LV end diastolic volume (n = 8)</text>
<line x1="426.1" y1="582.2" x2="449.7" y2="582.2" stroke="#333" stroke-width="1.0"/>
<circle cx="437.9" cy="582.2" r="3.5" fill="#fff" stroke="#111" stroke-width="1.1"/>
<text x="455.5" y="586.1" font-size="10.8" font-weight="normal" text-anchor="start" stroke="#000" stroke-width="0.2">LV end systolic volume (n = 8)</text>
<polyline points="437.9,607.4 467.9,643.1 497.9,645.6 527.9,675.4 557.9,677.3 587.9,640.4 617.9,620.5 647.9,591.2" fill="none" stroke="#262626" stroke-width="1.05" stroke-linejoin="round"/>
<polyline points="437.9,658.1 467.9,683.6 497.9,684.4 527.9,706.8 557.9,706.8 587.9,671.4 617.9,657.2 647.9,634.3" fill="none" stroke="#262626" stroke-width="1.05" stroke-linejoin="round"/>
<line x1="437.9" y1="595.1" x2="437.9" y2="620" stroke="#222" stroke-width="1.1"/>
<line x1="434.9" y1="595.1" x2="440.9" y2="595.1" stroke="#222" stroke-width="1.1"/>
<line x1="434.9" y1="620" x2="440.9" y2="620" stroke="#222" stroke-width="1.1"/>
<line x1="467.9" y1="630.5" x2="467.9" y2="656.4" stroke="#222" stroke-width="1.1"/>
<line x1="464.9" y1="630.5" x2="470.9" y2="630.5" stroke="#222" stroke-width="1.1"/>
<line x1="464.9" y1="656.4" x2="470.9" y2="656.4" stroke="#222" stroke-width="1.1"/>
<line x1="497.9" y1="629.4" x2="497.9" y2="662.6" stroke="#222" stroke-width="1.1"/>
<line x1="494.9" y1="629.4" x2="500.9" y2="629.4" stroke="#222" stroke-width="1.1"/>
<line x1="494.9" y1="662.6" x2="500.9" y2="662.6" stroke="#222" stroke-width="1.1"/>
<line x1="527.9" y1="664.8" x2="527.9" y2="686.1" stroke="#222" stroke-width="1.1"/>
<line x1="524.9" y1="664.8" x2="530.9" y2="664.8" stroke="#222" stroke-width="1.1"/>
<line x1="524.9" y1="686.1" x2="530.9" y2="686.1" stroke="#222" stroke-width="1.1"/>
<line x1="557.9" y1="656.1" x2="557.9" y2="698.6" stroke="#222" stroke-width="1.1"/>
<line x1="554.9" y1="656.1" x2="560.9" y2="656.1" stroke="#222" stroke-width="1.1"/>
<line x1="554.9" y1="698.6" x2="560.9" y2="698.6" stroke="#222" stroke-width="1.1"/>
<line x1="587.9" y1="609.6" x2="587.9" y2="671.2" stroke="#222" stroke-width="1.1"/>
<line x1="584.9" y1="609.6" x2="590.9" y2="609.6" stroke="#222" stroke-width="1.1"/>
<line x1="584.9" y1="671.2" x2="590.9" y2="671.2" stroke="#222" stroke-width="1.1"/>
<line x1="617.9" y1="601.5" x2="617.9" y2="640.2" stroke="#222" stroke-width="1.1"/>
<line x1="614.9" y1="601.5" x2="620.9" y2="601.5" stroke="#222" stroke-width="1.1"/>
<line x1="614.9" y1="640.2" x2="620.9" y2="640.2" stroke="#222" stroke-width="1.1"/>
<line x1="647.9" y1="575.7" x2="647.9" y2="608.1" stroke="#222" stroke-width="1.1"/>
<line x1="644.9" y1="575.7" x2="650.9" y2="575.7" stroke="#222" stroke-width="1.1"/>
<line x1="644.9" y1="608.1" x2="650.9" y2="608.1" stroke="#222" stroke-width="1.1"/>
<line x1="437.9" y1="647.6" x2="437.9" y2="669.7" stroke="#222" stroke-width="1.1"/>
<line x1="434.9" y1="647.6" x2="440.9" y2="647.6" stroke="#222" stroke-width="1.1"/>
<line x1="434.9" y1="669.7" x2="440.9" y2="669.7" stroke="#222" stroke-width="1.1"/>
<line x1="467.9" y1="671.7" x2="467.9" y2="696.7" stroke="#222" stroke-width="1.1"/>
<line x1="464.9" y1="671.7" x2="470.9" y2="671.7" stroke="#222" stroke-width="1.1"/>
<line x1="464.9" y1="696.7" x2="470.9" y2="696.7" stroke="#222" stroke-width="1.1"/>
<line x1="497.9" y1="672.8" x2="497.9" y2="696.9" stroke="#222" stroke-width="1.1"/>
<line x1="494.9" y1="672.8" x2="500.9" y2="672.8" stroke="#222" stroke-width="1.1"/>
<line x1="494.9" y1="696.9" x2="500.9" y2="696.9" stroke="#222" stroke-width="1.1"/>
<line x1="527.9" y1="698.7" x2="527.9" y2="714.8" stroke="#222" stroke-width="1.1"/>
<line x1="524.9" y1="698.7" x2="530.9" y2="698.7" stroke="#222" stroke-width="1.1"/>
<line x1="524.9" y1="714.8" x2="530.9" y2="714.8" stroke="#222" stroke-width="1.1"/>
<line x1="557.9" y1="687" x2="557.9" y2="726.6" stroke="#222" stroke-width="1.1"/>
<line x1="554.9" y1="687" x2="560.9" y2="687" stroke="#222" stroke-width="1.1"/>
<line x1="554.9" y1="726.6" x2="560.9" y2="726.6" stroke="#222" stroke-width="1.1"/>
<line x1="587.9" y1="644.8" x2="587.9" y2="698.2" stroke="#222" stroke-width="1.1"/>
<line x1="584.9" y1="644.8" x2="590.9" y2="644.8" stroke="#222" stroke-width="1.1"/>
<line x1="584.9" y1="698.2" x2="590.9" y2="698.2" stroke="#222" stroke-width="1.1"/>
<line x1="617.9" y1="639.8" x2="617.9" y2="674.7" stroke="#222" stroke-width="1.1"/>
<line x1="614.9" y1="639.8" x2="620.9" y2="639.8" stroke="#222" stroke-width="1.1"/>
<line x1="614.9" y1="674.7" x2="620.9" y2="674.7" stroke="#222" stroke-width="1.1"/>
<line x1="647.9" y1="619" x2="647.9" y2="650.2" stroke="#222" stroke-width="1.1"/>
<line x1="644.9" y1="619" x2="650.9" y2="619" stroke="#222" stroke-width="1.1"/>
<line x1="644.9" y1="650.2" x2="650.9" y2="650.2" stroke="#222" stroke-width="1.1"/>
<circle cx="437.9" cy="607.4" r="3.7" fill="#000"/>
<circle cx="467.9" cy="643.1" r="3.7" fill="#000"/>
<circle cx="497.9" cy="645.6" r="3.7" fill="#000"/>
<circle cx="527.9" cy="675.4" r="3.7" fill="#000"/>
<circle cx="557.9" cy="677.3" r="3.7" fill="#000"/>
<circle cx="587.9" cy="640.4" r="3.7" fill="#000"/>
<circle cx="617.9" cy="620.5" r="3.7" fill="#000"/>
<circle cx="647.9" cy="591.2" r="3.7" fill="#000"/>
<circle cx="437.9" cy="658.1" r="3.5" fill="#fff" stroke="#111" stroke-width="1.1"/>
<circle cx="467.9" cy="683.6" r="3.5" fill="#fff" stroke="#111" stroke-width="1.1"/>
<circle cx="497.9" cy="684.4" r="3.5" fill="#fff" stroke="#111" stroke-width="1.1"/>
<circle cx="527.9" cy="706.8" r="3.5" fill="#fff" stroke="#111" stroke-width="1.1"/>
<circle cx="557.9" cy="706.8" r="3.5" fill="#fff" stroke="#111" stroke-width="1.1"/>
<circle cx="587.9" cy="671.4" r="3.5" fill="#fff" stroke="#111" stroke-width="1.1"/>
<circle cx="617.9" cy="657.2" r="3.5" fill="#fff" stroke="#111" stroke-width="1.1"/>
<circle cx="647.9" cy="634.3" r="3.5" fill="#fff" stroke="#111" stroke-width="1.1"/>
<path d="M527.9,660.6L527.9,655.2M525.56,659.25L530.24,656.55M530.24,659.25L525.56,656.55" stroke="#1a1a1a" stroke-width="1.3" fill="none"/>
<path d="M557.9,652.7L557.9,647.3M555.56,651.35L560.24,648.65M560.24,651.35L555.56,648.65" stroke="#1a1a1a" stroke-width="1.3" fill="none"/>
<path d="M527.9,737.7L527.9,732.3M525.56,736.35L530.24,733.65M530.24,736.35L525.56,733.65" stroke="#1a1a1a" stroke-width="1.3" fill="none"/>
<path d="M557.9,737.7L557.9,732.3M555.56,736.35L560.24,733.65M560.24,736.35L555.56,733.65" stroke="#1a1a1a" stroke-width="1.3" fill="none"/>
<text transform="translate(440.7,774.8) rotate(-30.5)" font-size="11.9" font-weight="bold" text-anchor="end">38°C baseline</text>
<text transform="translate(470.7,774.8) rotate(-30.5)" font-size="11.9" font-weight="bold" text-anchor="end">34°C cool</text>
<text transform="translate(500.7,774.8) rotate(-30.5)" font-size="11.9" font-weight="bold" text-anchor="end">30°C cool</text>
<text transform="translate(530.7,774.8) rotate(-30.5)" font-size="11.9" font-weight="bold" text-anchor="end">25°C</text>
<text transform="translate(560.7,774.8) rotate(-30.5)" font-size="11.9" font-weight="bold" text-anchor="end">25°C 1h</text>
<text transform="translate(590.7,774.8) rotate(-30.5)" font-size="11.9" font-weight="bold" text-anchor="end">30°C rewarm</text>
<text transform="translate(620.7,774.8) rotate(-30.5)" font-size="11.9" font-weight="bold" text-anchor="end">34°C rewarm</text>
<text transform="translate(650.7,774.8) rotate(-30.5)" font-size="11.9" font-weight="bold" text-anchor="end">After rewarming</text>
</svg>
</body></html>
